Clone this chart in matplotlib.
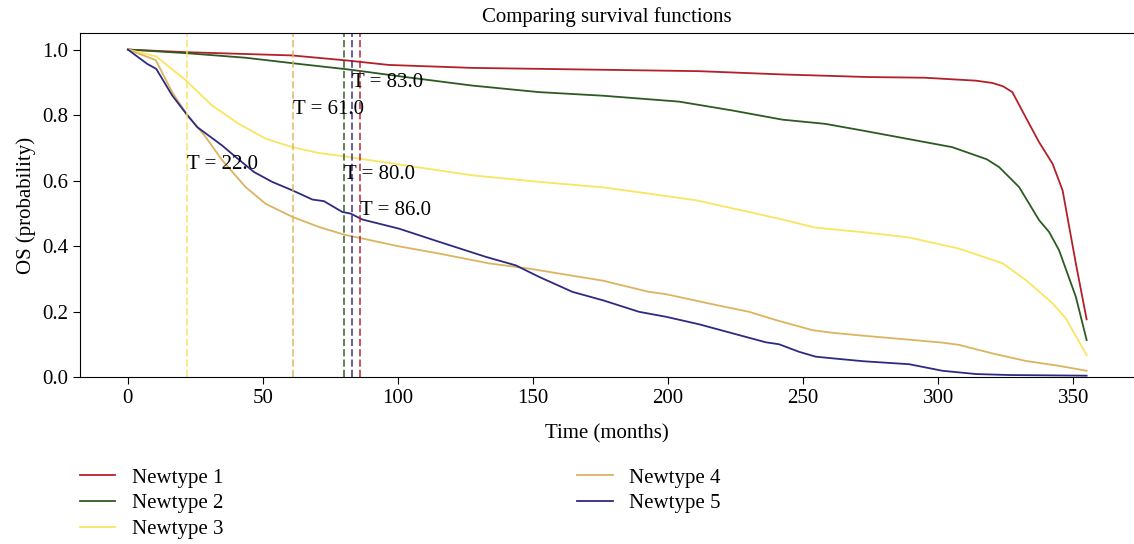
import matplotlib
matplotlib.use("Agg")
import matplotlib.pyplot as plt

plt.rcParams['font.family'] = ['Liberation Serif', 'DejaVu Serif']

# survival curves (months, probability)
t1 = [0, 21.6, 60.9, 81.9, 96.6, 127.5, 178.1, 211.5, 242.3, 274.4, 295, 314, 320.1, 324, 327.5, 332, 337.4, 342.4, 346.1, 351, 355]
s1 = [1.0, 0.992, 0.982, 0.966, 0.953, 0.944, 0.938, 0.934, 0.924, 0.916, 0.914, 0.905, 0.898, 0.888, 0.870, 0.80, 0.717, 0.651, 0.570, 0.347, 0.176]

t2 = [0, 21.6, 43.6, 63.4, 81.9, 102.8, 127.5, 152.2, 176, 204.1, 223.8, 242.3, 258.3, 272.5, 305.2, 318, 322.6, 330, 337.4, 341.1, 344.8, 351, 355]
s2 = [1.0, 0.989, 0.975, 0.956, 0.939, 0.916, 0.890, 0.870, 0.859, 0.841, 0.814, 0.786, 0.773, 0.752, 0.702, 0.665, 0.641, 0.580, 0.479, 0.443, 0.387, 0.245, 0.113]

t3 = [0, 10.5, 21.6, 31.2, 41.1, 51.0, 60.9, 70.8, 80, 102.8, 127.5, 152.2, 176, 192.9, 210.2, 230, 242.3, 254.7, 272.5, 289.3, 307.8, 323.9, 332.5, 342.4, 347.3, 355]
s3 = [1.0, 0.979, 0.905, 0.829, 0.773, 0.728, 0.702, 0.684, 0.674, 0.646, 0.616, 0.596, 0.579, 0.560, 0.540, 0.504, 0.481, 0.456, 0.442, 0.426, 0.392, 0.347, 0.296, 0.225, 0.179, 0.067]

t4 = [0, 10.3, 16.4, 22, 28.8, 34.9, 43.6, 51.0, 60.9, 70.8, 80, 100.4, 115.2, 133.7, 148.5, 176, 192.9, 199.2, 217.7, 230, 239.9, 253.5, 260.9, 272.5, 301.6, 307.8, 320.1, 332.5, 344.8, 355]
s4 = [1.0, 0.968, 0.870, 0.800, 0.733, 0.662, 0.580, 0.529, 0.489, 0.458, 0.435, 0.399, 0.377, 0.347, 0.331, 0.294, 0.260, 0.253, 0.220, 0.199, 0.174, 0.143, 0.135, 0.126, 0.105, 0.098, 0.072, 0.049, 0.034, 0.019]

t5 = [0, 7.2, 10.5, 16.4, 21.6, 25.7, 34.9, 39.9, 46.7, 53.4, 60.9, 68.3, 72.6, 79.4, 82.5, 86.8, 100.4, 115.2, 132.5, 143.6, 152.2, 164.6, 176, 189.3, 199.2, 211.5, 226.3, 236.2, 241.1, 248.5, 254.7, 260.9, 272.5, 289.3, 301.6, 314, 326.3, 355]
s5 = [1.0, 0.956, 0.941, 0.860, 0.804, 0.763, 0.707, 0.672, 0.626, 0.596, 0.570, 0.542, 0.537, 0.504, 0.499, 0.481, 0.453, 0.413, 0.367, 0.341, 0.306, 0.260, 0.234, 0.199, 0.184, 0.161, 0.128, 0.106, 0.100, 0.077, 0.062, 0.057, 0.048, 0.039, 0.019, 0.009, 0.006, 0.004]

names = ['Newtype 1', 'Newtype 2', 'Newtype 3', 'Newtype 4', 'Newtype 5']
colors = ['#b3202a', '#2d5a22', '#f9e55e', '#dcb460', '#2e2a82']

# marked times and label positions
marks = [22, 61, 80, 83, 86]
mark_colors = ['#f9e55e', '#dcb460', '#2d5a22', '#2e2a82', '#b3202a']
label_y = [0.649, 0.817, 0.619, 0.900, 0.509]

fig = plt.figure(figsize=(11.34, 5.44), dpi=100)
ax = fig.add_axes([0.0705, 0.307, 0.93, 0.632])

for t, s, c, n in zip([t1, t2, t3, t4, t5], [s1, s2, s3, s4, s5], colors, names):
    ax.plot(t, s, color=c, lw=1.3, label=n)

for m, c, y in zip(marks, mark_colors, label_y):
    ax.axvline(m, color=c, ls='--', lw=1.4, alpha=0.75)
    ax.text(m, y, 'T = %.1f' % m, fontsize=15, va='center', ha='left')

ax.set_xlim(-17.75, 372.75)
ax.set_ylim(0, 1.05)
ax.set_xticks(range(0, 351, 50))
ax.set_yticks([0.0, 0.2, 0.4, 0.6, 0.8, 1.0])
ax.tick_params(labelsize=15, direction='out', length=5)
ax.set_xlabel('Time (months)', fontsize=15, labelpad=12)
ax.set_ylabel('OS (probability)', fontsize=15)
ax.set_title('Comparing survival functions', fontsize=15, pad=8)

fig.legend(loc='upper left', bbox_to_anchor=(0.063, 0.155, 0.58, 0.0), mode='expand',
           ncol=2, frameon=False, fontsize=15, handlelength=1.7, labelspacing=0.3,
           borderaxespad=0)

fig.savefig('out.png', dpi=100)
